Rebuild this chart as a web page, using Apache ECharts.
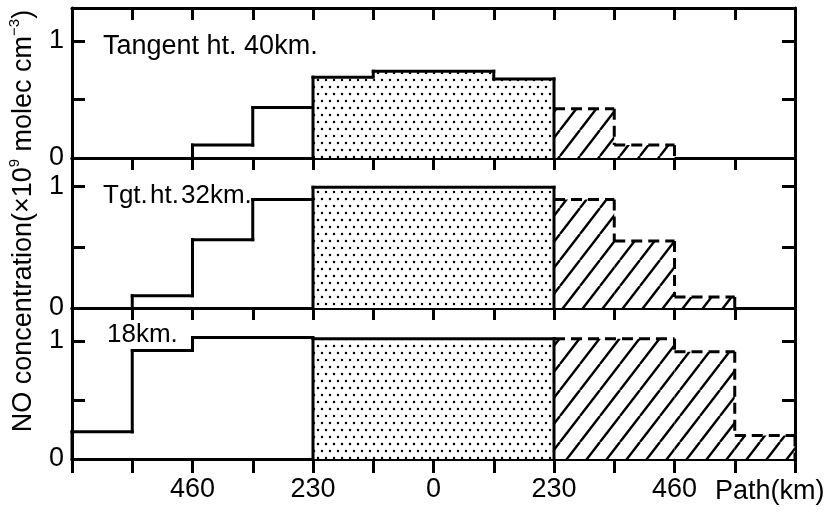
<!DOCTYPE html>
<html>
<head>
<meta charset="utf-8">
<script src="https://cdn.jsdelivr.net/npm/echarts@6/dist/echarts.min.js"></script>
<style>
html,body{margin:0;padding:0;background:#fff;}
#chart{width:829px;height:515px;}
</style>
</head>
<body>
<div id="chart"></div>
<script>
// ---- DATA (path in km, NO concentration in 1e9 molec cm^-3) ----
const panelLabels = ['Tangent ht. 40km.', 'Tgt.\u200Aht.\u200A32km.', '18km.'];
const labeledTicks = [-460, -230, 0, 230, 460];
const tickLabels = ['460', '230', '0', '230', '460'];
const yTickLabels = ['0', '1'];

// Tangent height 40 km
const p40LeftEdges = [-460, -345, -230];
const p40LeftValues = [0.11, 0.43];
const p40CenterEdges = [-230, -115, 115, 230];
const p40CenterValues = [0.69, 0.74, 0.675];
const p40RightEdges = [230, 345, 460];
const p40RightValues = [0.42, 0.11];

// Tangent height 32 km
const p32LeftEdges = [-575, -460, -345, -230];
const p32LeftValues = [0.10, 0.56, 0.89];
const p32CenterEdges = [-230, 230];
const p32CenterValues = [0.99];
const p32RightEdges = [230, 345, 460, 575];
const p32RightValues = [0.89, 0.55, 0.09];

// Tangent height 18 km
const p18LeftEdges = [-690, -575, -460, -230];
const p18LeftValues = [0.23, 0.92, 1.03];
const p18CenterEdges = [-230, 230];
const p18CenterValues = [1.02];
const p18RightEdges = [230, 460, 575, 690];
const p18RightValues = [1.02, 0.91, 0.20];

// ---- STYLE / LAYOUT ----
const FONT = 'Liberation Sans';
const gridTops = [8, 158, 308];
const gridHeights = [150, 150, 151];
const yMaxes = [1.28, 1.23, 1.28];

function makeDotPattern() {
  const c = document.createElement('canvas');
  c.width = 8; c.height = 14;
  const g = c.getContext('2d');
  g.fillStyle = '#fff'; g.fillRect(0, 0, 8, 14);
  g.fillStyle = '#000';
  [[2, 3], [6, 10]].forEach(p => { g.beginPath(); g.arc(p[0], p[1], 1.25, 0, Math.PI * 2); g.fill(); });
  return { image: c, repeat: 'repeat' };
}
function makeHatchPattern() {
  const w = 20, h = 26;
  const c = document.createElement('canvas');
  c.width = w; c.height = h;
  const g = c.getContext('2d');
  g.fillStyle = '#fff'; g.fillRect(0, 0, w, h);
  g.strokeStyle = '#000'; g.lineWidth = 2.4;
  [-w, 0, w].forEach(x0 => { g.beginPath(); g.moveTo(x0, h); g.lineTo(x0 + w, 0); g.stroke(); });
  return { image: c, repeat: 'repeat' };
}
const dotPattern = makeDotPattern();
const hatchPattern = makeHatchPattern();

function region(panel, kind, edges, values) {
  const data = values.map((v, i) => [edges[i], edges[i + 1], v]);
  const n = values.length;
  const fill = kind === 'center' ? dotPattern : (kind === 'right' ? hatchPattern : null);
  const lineStyle = {
    stroke: '#000', lineWidth: 3,
    lineDash: kind === 'right' ? [11, 6] : null,
    lineCap: kind === 'right' ? 'butt' : 'square'
  };
  return {
    type: 'custom',
    xAxisIndex: panel * 2,
    yAxisIndex: panel * 2,
    data: data,
    clip: false,
    z: kind === 'right' ? 2 : 3,
    renderItem: function (params, api) {
      const i = params.dataIndex;
      const x0 = api.value(0), x1 = api.value(1), v = api.value(2);
      const tl = api.coord([x0, v]);
      const br = api.coord([x1, 0]);
      const children = [];
      if (fill) {
        children.push({
          type: 'rect',
          shape: { x: tl[0], y: tl[1], width: br[0] - tl[0], height: br[1] - tl[1] },
          style: { fill: fill, stroke: null }
        });
      }
      const tr = api.coord([x1, v]);
      children.push({ type: 'line', shape: { x1: tl[0], y1: tl[1], x2: tr[0], y2: tr[1] }, style: lineStyle });
      if (!(kind === 'right' && i === 0)) {
        const prev = i > 0 ? values[i - 1] : 0;
        const a = api.coord([x0, prev]);
        children.push({ type: 'line', shape: { x1: a[0], y1: a[1], x2: tl[0], y2: tl[1] }, style: lineStyle });
      }
      if (kind !== 'left' && i === n - 1) {
        const b = api.coord([x1, 0]);
        children.push({ type: 'line', shape: { x1: tr[0], y1: tr[1], x2: b[0], y2: b[1] }, style: lineStyle });
      }
      return { type: 'group', children: children };
    }
  };
}

const grids = [], xAxes = [], yAxes = [];
const axisLine = { show: true, onZero: false, lineStyle: { color: '#000', width: 3 } };
for (let p = 0; p < 3; p++) {
  grids.push({ left: 72, right: 34, top: gridTops[p], height: gridHeights[p] });
  xAxes.push({
    type: 'value', gridIndex: p, position: 'bottom', min: -690, max: 690, interval: 115,
    axisLine: axisLine, splitLine: { show: false },
    axisTick: p === 2 ? { show: true, inside: false, length: 14, lineStyle: { color: '#000', width: 3 } } : { show: false },
    axisLabel: p === 2 ? {
      show: true, margin: 17, color: '#000', fontSize: 27, fontFamily: FONT,
      formatter: v => { const k = labeledTicks.indexOf(Math.round(v)); return k >= 0 ? tickLabels[k] : ''; }
    } : { show: false }
  });
  xAxes.push({
    type: 'value', gridIndex: p, position: 'top', min: -690, max: 690, interval: 115,
    axisLine: axisLine, splitLine: { show: false },
    axisTick: { show: true, inside: true, length: 12, lineStyle: { color: '#000', width: 3 } },
    axisLabel: { show: false }
  });
  yAxes.push({
    type: 'value', gridIndex: p, position: 'left', min: 0, max: yMaxes[p], interval: 0.5,
    axisLine: axisLine, splitLine: { show: false },
    axisTick: { show: true, inside: true, length: 13, lineStyle: { color: '#000', width: 3 } },
    axisLabel: {
      show: true, margin: 8, color: '#000', fontSize: 27, fontFamily: FONT,
      formatter: v => (v === 0 ? yTickLabels[0] : (v === 1 ? yTickLabels[1] : ''))
    }
  });
  yAxes.push({
    type: 'value', gridIndex: p, position: 'right', min: 0, max: yMaxes[p], interval: 0.5,
    axisLine: axisLine, splitLine: { show: false },
    axisTick: { show: true, inside: true, length: 13, lineStyle: { color: '#000', width: 3 } },
    axisLabel: { show: false }
  });
}

const series = [
  region(0, 'left', p40LeftEdges, p40LeftValues),
  region(0, 'center', p40CenterEdges, p40CenterValues),
  region(0, 'right', p40RightEdges, p40RightValues),
  region(1, 'left', p32LeftEdges, p32LeftValues),
  region(1, 'center', p32CenterEdges, p32CenterValues),
  region(1, 'right', p32RightEdges, p32RightValues),
  region(2, 'left', p18LeftEdges, p18LeftValues),
  region(2, 'center', p18CenterEdges, p18CenterValues),
  region(2, 'right', p18RightEdges, p18RightValues)
];

const textStyle = { fill: '#000', fontSize: 27, fontFamily: FONT };
const chart = echarts.init(document.getElementById('chart'), null, { renderer: 'canvas' });
chart.setOption({
  backgroundColor: '#fff',
  animation: false,
  grid: grids,
  xAxis: xAxes,
  yAxis: yAxes,
  series: series,
  graphic: [
    { type: 'text', left: 103, top: 33, style: Object.assign({ text: panelLabels[0] }, textStyle) },
    { type: 'text', left: 103, top: 183, style: Object.assign({}, textStyle, { text: panelLabels[1], fontSize: 26 }) },
    { type: 'text', left: 107, top: 322, style: Object.assign({}, textStyle, { text: panelLabels[2], fontSize: 26 }) },
    { type: 'text', left: 715, top: 478, style: Object.assign({ text: 'Path(km)' }, textStyle) },
    {
      type: 'text', x: 24, y: 221, rotation: Math.PI / 2,
      style: {
        text: 'NO concentration(×10{sup|9} molec cm{sup|−3})',
        fill: '#000', fontSize: 27, fontFamily: FONT, lineHeight: 34,
        align: 'center', verticalAlign: 'middle',
        rich: { sup: { fontSize: 15, fontFamily: FONT, fill: '#000', verticalAlign: 'top', lineHeight: 15 } }
      }
    }
  ]
});
</script>
</body>
</html>
